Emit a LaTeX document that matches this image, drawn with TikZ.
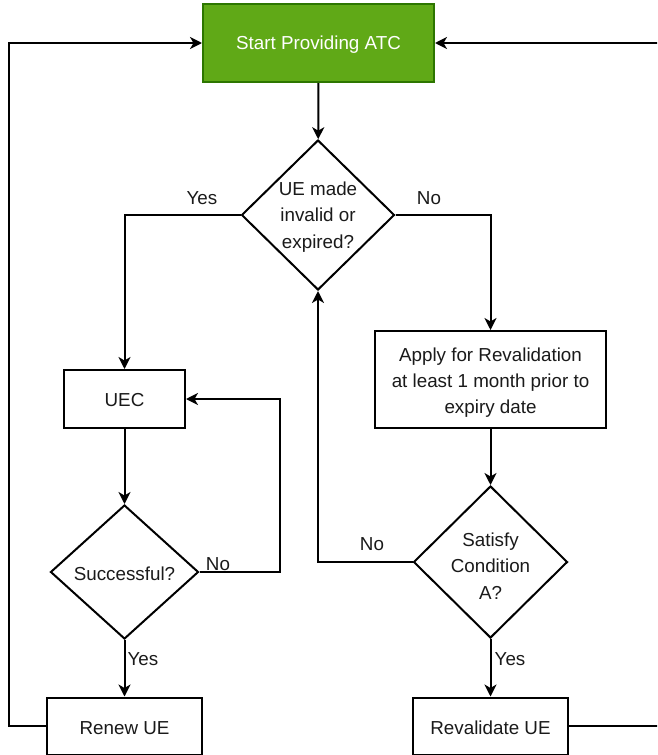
\documentclass[tikz,border=0pt]{standalone}
\usepackage{fontspec}
\setmainfont{Liberation Sans}
\usetikzlibrary{shapes.geometric,arrows.meta}
\definecolor{startfill}{HTML}{60A917}
\definecolor{startdraw}{HTML}{2D7600}
\definecolor{txtc}{HTML}{1A1A1A}
\newcommand{\fsz}{\fontsize{18.8}{26.2}\selectfont}
\begin{document}
\begin{tikzpicture}[x=1pt,y=-1pt,
  box/.style={draw=black, line width=2pt, fill=white, inner sep=0pt, font=\fsz, text=txtc, align=center},
  dia/.style={diamond, draw=black, line width=2pt, fill=white, inner sep=0pt},
  txt/.style={font=\fsz, text=txtc, align=center, inner sep=0pt},
  lbl/.style={font=\fsz, text=txtc, inner sep=0pt},
  conn/.style={line width=2pt, -{Stealth[length=12pt,width=12pt,inset=3.5pt]}}]
\useasboundingbox (0,0) rectangle (657,755);
\clip (0,0) rectangle (657,755);
% nodes
\node[box, fill=startfill, draw=startdraw, text=white, minimum width=231pt, minimum height=78pt] (start) at (318.5,43) {};
\node[txt, text=white] (startt) at (318.5,45) {Start Providing ATC};
\node[dia, minimum width=153pt, minimum height=150pt] (d1) at (318,215) {};
\node[txt] (d1t) at (318,217) {UE made\\invalid or\\expired?};
\node[box, minimum width=121pt, minimum height=58pt] (uec) at (124.5,399) {};
\node[txt] (uect) at (124.5,400) {UEC};
\node[box, minimum width=231pt, minimum height=97pt] (apply) at (490.5,379.5) {};
\node[txt] (applyt) at (490.5,382.5) {Apply for Revalidation\\at least 1 month prior to\\expiry date};
\node[dia, minimum width=148pt, minimum height=134pt] (d2) at (124.5,572) {};
\node[txt] (d2t) at (124.5,574) {Successful?};
\node[dia, minimum width=154pt, minimum height=152pt] (d3) at (490.5,562) {};
\node[txt] (d3t) at (490.5,566) {Satisfy\\Condition\\A?};
\node[box, minimum width=155pt, minimum height=57pt] (renew) at (124.5,726) {};
\node[txt] (renewt) at (124.5,728) {Renew UE};
\node[box, minimum width=155pt, minimum height=57pt] (reval) at (490.5,726) {};
\node[txt] (revalt) at (490.5,728) {Revalidate UE};
% connectors
\draw[conn] (start) -- (d1);
\draw[conn] (d1.west) -| (uec.north);
\draw[conn] (d1.east) -| (apply.north);
\draw[conn] (uec) -- (d2);
\draw[conn] (d2.east) -- ++(80,0) |- (uec.east);
\draw[conn] (d2) -- (renew);
\draw[conn] (apply) -- (d3);
\draw[conn] (d3.west) -| (d1.south);
\draw[conn] (d3) -- (reval);
\draw[conn] (renew.west) -- ++(-37.5,0) |- (start.west);
\draw[conn] (reval.east) -- ++(100,0) |- (start.east);
% labels
\node[lbl] (l1) at (202,198) {Yes};
\node[lbl] (l2) at (429,198) {No};
\node[lbl] (l3) at (218,564) {No};
\node[lbl] (l4) at (143,659) {Yes};
\node[lbl] (l5) at (372,544) {No};
\node[lbl] (l6) at (510,659) {Yes};
\end{tikzpicture}
\end{document}
